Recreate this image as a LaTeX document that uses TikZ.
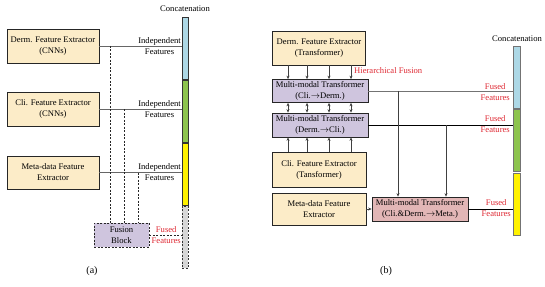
\documentclass[tikz,border=0pt]{standalone}
\usepackage{fontspec}
\setmainfont{Liberation Serif}
\usetikzlibrary{arrows.meta,calc}
\definecolor{cream}{RGB}{252,236,200}
\definecolor{lav}{RGB}{207,197,222}
\definecolor{pinkb}{RGB}{226,182,182}
\definecolor{barblue}{RGB}{173,216,230}
\definecolor{bargreen}{RGB}{141,196,78}
\definecolor{bargray}{RGB}{214,214,214}
\definecolor{redt}{RGB}{222,40,50}
\begin{document}
\begin{tikzpicture}[x=1pt,y=-1pt,
  every node/.style={font=\fontsize{8.6}{11}\selectfont, inner sep=1pt},
  box/.style={draw=black!85, line width=0.7pt, fill=cream, align=center, minimum width=92pt, minimum height=34pt},
  mmt/.style={draw=black!85, line width=0.7pt, fill=lav, align=center, minimum width=96pt, minimum height=23pt},
  seg/.style={draw=black!80, line width=0.6pt, minimum width=6pt, minimum height=62pt},
  lbl/.style={align=center, anchor=east},
  redl/.style={align=center, anchor=east, text=redt},
  conn/.style={draw=black!60, line width=0.7pt},
  arr/.style={draw=black!75, line width=0.7pt, -{Stealth[length=3.5pt,width=3pt]}},
  darr/.style={draw=black!75, line width=0.7pt, {Stealth[length=3.5pt,width=3pt]}-{Stealth[length=3.5pt,width=3pt]}},
  dsh/.style={draw=black!85, line width=0.6pt, dashed, dash pattern=on 2pt off 1.5pt}]
\useasboundingbox (0,0) rectangle (545,286);
% ---------- (a) ----------
\node[box] (dA) at (53,46) {Derm. Feature Extractor\\(CNNs)};
\node[box] (cA) at (53,109) {Cli. Feature Extractor\\(CNNs)};
\node[box, minimum height=33pt] (mA) at (53,172.5) {Meta-data Feature\\Extractor};
\node[seg, fill=barblue] (bA1) at (185,48) {};
\node[seg, fill=bargreen] (bA2) at (185,111) {};
\node[seg, fill=yellow] (bA3) at (185,174) {};
\node[seg, fill=bargray, dashed, dash pattern=on 2pt off 1.5pt] (bA4) at (185,237) {};
\node (concA) at (185,9) {Concatenation};
\node[draw=black!85, line width=0.6pt, dashed, dash pattern=on 2pt off 1.5pt, fill=lav, align=center, minimum width=55pt, minimum height=24pt] (fus) at (121.5,235) {Fusion\\Block};
\draw[conn] (dA.east) -- (dA.east -| bA1.west);
\draw[conn] (cA.east) -- (cA.east -| bA2.west);
\draw[conn] (mA.east) -- (mA.east -| bA3.west);
\node[lbl] (ifA1) at (182,46) {Independent\\Features};
\node[lbl] (ifA2) at (182,109) {Independent\\Features};
\node[lbl] (ifA3) at (182,172.5) {Independent\\Features};
\coordinate (vA1) at (110,46);
\coordinate (vA2) at (124,109);
\coordinate (vA3) at (138,172.5);
\draw[dsh] (vA1) -- (vA1 |- fus.north);
\draw[dsh] (vA2) -- (vA2 |- fus.north);
\draw[dsh] (vA3) -- (vA3 |- fus.north);
\draw[dsh] (fus.east) -- (fus.east -| bA4.west);
\node[redl] (ffA) at (182,235) {Fused\\Features};
\node (capA) at (92,271) {\fontsize{10}{12}\selectfont (a)};
% ---------- (b) ----------
\node[box, minimum width=93pt] (dB) at (319,48) {Derm. Feature Extractor\\(Transformer)};
\node[mmt] (m1) at (320,91) {Multi-modal Transformer\\(Cli.$\to$Derm.)};
\node[mmt, minimum height=24pt] (m2) at (320,125) {Multi-modal Transformer\\(Derm.$\to$Cli.)};
\node[box, minimum width=94pt, minimum height=35pt] (cB) at (319,169.5) {Cli. Feature Extractor\\(Tansformer)};
\node[box, minimum width=94pt, minimum height=32pt] (meB) at (319,209) {Meta-data Feature\\Extractor};
\node[mmt, fill=pinkb, minimum height=24pt] (m3) at (420,209) {Multi-modal Transformer\\(Cli.\&Derm.$\to$Meta.)};
\node[seg, draw=black!55, minimum width=7pt, fill=barblue] (bB1) at (516.5,77) {};
\node[seg, draw=black!55, minimum width=7pt, fill=bargreen] (bB2) at (516.5,140) {};
\node[seg, draw=black!55, minimum width=7pt, fill=yellow] (bB3) at (516.5,204) {};
\node (concB) at (517,39) {Concatenation};
\foreach \i/\x in {1/288,2/307,3/329,4/351}{
  \coordinate (k\i) at (\x,0);
  \draw[arr] (dB.south -| k\i) -- (m1.north -| k\i);
  \draw[darr] (m1.south -| k\i) -- (m2.north -| k\i);
  \draw[arr] (cB.north -| k\i) -- (m2.south -| k\i);
}
\node[anchor=west, text=redt] (hf) at (353,71) {Hierarchical Fusion};
\draw[conn, draw=black!55] (m1.east) -- (m1.east -| bB1.west);
\draw[line width=0.7pt] (m2.east) -- (m2.east -| bB2.west);
\coordinate (v1) at (398,91);
\coordinate (v2) at (446,125);
\draw[arr] (v1) -- (v1 |- m3.north);
\draw[arr] (v2) -- (v2 |- m3.north);
\draw[arr] (meB.east) -- (m3.west);
\draw[line width=0.7pt] (m3.east) -- (m3.east -| bB3.west);
\node[redl] (ffB1) at (511,92) {Fused\\Features};
\node[redl] (ffB2) at (511,124.5) {Fused\\Features};
\node[redl] (ffB3) at (512,208.5) {Fused\\Features};
\node (capB) at (386,271) {\fontsize{10}{12}\selectfont (b)};
\end{tikzpicture}
\end{document}
